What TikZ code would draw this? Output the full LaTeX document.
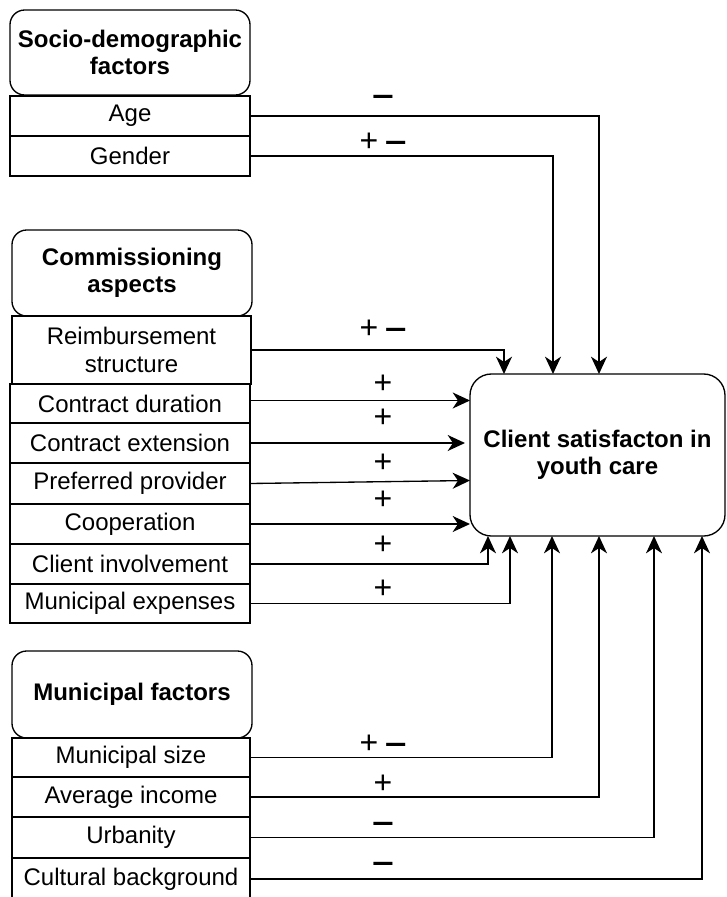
\documentclass[tikz,border=0pt]{standalone}
\usepackage{fontspec}
\setmainfont{Liberation Sans}
\usetikzlibrary{arrows.meta,calc}
\begin{document}
\begin{tikzpicture}[x=0.75pt,y=-0.75pt,
  every node/.style={inner sep=0pt, outer sep=0pt},
  rowbox/.style={draw, line width=1pt, rectangle, anchor=north west, align=center,
    minimum width=180pt, font=\fontsize{18pt}{21.5pt}\selectfont},
  headbox/.style={draw, line width=1pt, rectangle, rounded corners=11pt, anchor=north west,
    align=center, minimum width=180pt, font=\bfseries\fontsize{18pt}{20pt}\selectfont},
  mainbox/.style={draw, line width=1pt, rectangle, rounded corners=16pt, anchor=north west,
    align=center, minimum width=191.25pt, minimum height=121.5pt,
    font=\bfseries\fontsize{18pt}{20pt}\selectfont},
  conn/.style={draw, line width=1pt, -{Stealth[length=13pt,width=12pt,inset=4pt]}},
  sign/.style={anchor=base, font=\fontsize{24pt}{24pt}\selectfont},
]
\useasboundingbox (0,0) rectangle (726,897);
\newcommand{\mns}{\scalebox{1.2}[1]{\textbf{–}}}

% Socio-demographic
\node[headbox, minimum height=63.75pt] (sdh) at (10,10) {Socio-demographic\\factors};
\node[rowbox, minimum height=30pt] (age) at (10,96) {Age};
\node[rowbox, minimum height=30pt] (gen) at (10,136) {Gender};

% Commissioning
\node[headbox, minimum height=64.5pt] (cah) at (12,230) {Commissioning\\aspects};
\node[rowbox, minimum width=179.25pt, minimum height=51pt] (reim) at (12,316) {Reimbursement\\structure};
\node[rowbox, minimum height=29.25pt] (cdur) at (10,384) {Contract duration};
\node[rowbox, minimum height=30pt] (cext) at (10,423) {Contract extension};
\node[rowbox, minimum height=30.75pt] (pref) at (10,463) {Preferred provider};
\node[rowbox, minimum height=30pt] (coop) at (10,504) {Cooperation};
\node[rowbox, minimum height=30pt] (cinv) at (10,544) {Client involvement};
\node[rowbox, minimum height=29.25pt] (mexp) at (10,584) {Municipal expenses};
\draw[line width=2pt] (cext.south west) -- (cext.south east);

% Municipal
\node[headbox, minimum height=65.25pt] (mfh) at (12,651) {Municipal factors};
\node[rowbox, minimum width=178.5pt, minimum height=29.25pt] (msize) at (12,738) {Municipal size};
\node[rowbox, minimum width=178.5pt, minimum height=30pt] (avinc) at (12,777) {Average income};
\node[rowbox, minimum width=178.5pt, minimum height=30.75pt] (urb) at (12,817) {Urbanity};
\node[rowbox, minimum width=178.5pt, minimum height=31.5pt] (cult) at (12,858) {Cultural background};

% Main
\node[mainbox] (main) at (470,374) {Client satisfacton in\\youth care};

% Connectors from top
\draw[conn] (age.east) -| (main.north -| 599,0);
\draw[conn] (gen.east) -| (main.north -| 553,0);
\draw[conn] (reim.east) -| (main.north -| 504,0);

% Connectors from left
\draw[conn] ($(cdur.east)+(0,-3)$) -- ($(main.west |- cdur.east)+(0,-3)$);
\draw[conn] (cext.east) -- ($(main.west |- cext.east)+(-5,0)$);
\draw[conn] (pref.east) -- ($(main.west |- pref.east)+(0,-3)$);
\draw[conn] (coop.east) -- (main.west |- coop.east);

% Connectors from bottom
\draw[conn] (cinv.east) -| (main.south -| 488,0);
\draw[conn] (mexp.east) -| (main.south -| 510,0);
\draw[conn] (msize.east) -| (main.south -| 552,0);
\draw[conn] (avinc.east) -| (main.south -| 599,0);
\draw[conn] (urb.east) -| (main.south -| 654,0);
\draw[conn] (cult.east) -| (main.south -| 702,0);

% Signs
\node[sign] (s1) at (383,105) {\mns};
\node[sign] (s2) at (383,151) {+\hspace{5pt}\mns};
\node[sign] (s3) at (383,338) {+\hspace{5pt}\mns};
\node[sign] (s4) at (383,393) {+};
\node[sign] (s5) at (383,427) {+};
\node[sign] (s6) at (383,472) {+};
\node[sign] (s7) at (383,509) {+};
\node[sign] (s8) at (383,554) {+};
\node[sign] (s9) at (383,598) {+};
\node[sign] (s10) at (383,753) {+\hspace{5pt}\mns};
\node[sign] (s11) at (383,793) {+};
\node[sign] (s12) at (383,832) {\mns};
\node[sign] (s13) at (383,872) {\mns};
\end{tikzpicture}
\end{document}
